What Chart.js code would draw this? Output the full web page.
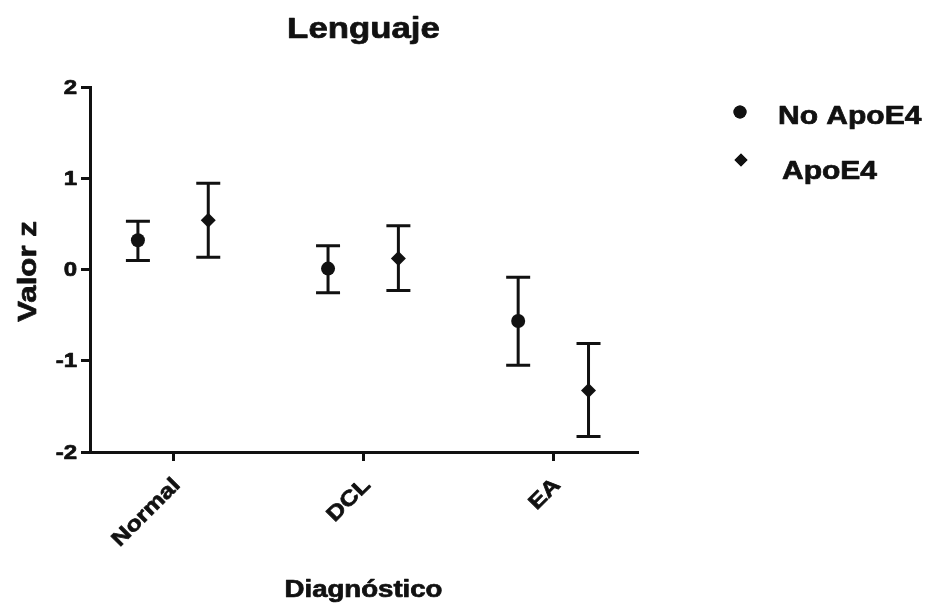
<!DOCTYPE html>
<html>
<head>
<meta charset="utf-8">
<script src="https://cdn.jsdelivr.net/npm/chart.js@4/dist/chart.umd.min.js"></script>
<style>
  html, body { margin: 0; padding: 0; background: #fff; }
  #wrap { width: 930px; height: 609px; }
</style>
</head>
<body>
<div id="wrap"><canvas id="c" width="930" height="609"></canvas></div>
<script>
// Diagnostic groups on the x axis
const categories = ['Normal', 'DCL', 'EA'];
// Y axis tick values
const yTicks = [-2, -1, 0, 1, 2];

// Language z-scores: mean with lower / upper error-bar ends
const noApoMean = [0.32, 0.01, -0.565];
const noApoLow  = [0.10, -0.255, -1.05];
const noApoHigh = [0.53, 0.26, -0.085];

const apoMean = [0.54, 0.12, -1.325];
const apoLow  = [0.135, -0.23, -1.83];
const apoHigh = [0.945, 0.48, -0.81];

const seriesNames = ['No ApoE4', 'ApoE4'];
const chartTitle = 'Lenguaje';
const xTitle = 'Diagnóstico';
const yTitle = 'Valor z';

const INK = '#111';
const FONT = '"Liberation Sans", Arial, Helvetica, sans-serif';
const WIDE = 1.2;     // the labels use a broad, extended bold face
const DODGE = 0.185;  // side-by-side spread of the two groups within a category

function toPoints(means, lows, highs, shift) {
  return means.map((m, i) => ({ x: i + 1 + shift, y: m, lo: lows[i], hi: highs[i] }));
}

// Heavy bold text, widened along its own direction, optionally rotated
function wideText(ctx, text, x, y, size, align, baseline, rotation) {
  ctx.save();
  ctx.translate(x, y);
  if (rotation) ctx.rotate(rotation);
  ctx.scale(WIDE, 1);
  ctx.font = 'bold ' + size + 'px ' + FONT;
  ctx.textAlign = align;
  ctx.textBaseline = baseline;
  ctx.fillStyle = INK;
  ctx.strokeStyle = INK;
  ctx.lineWidth = 0.7;
  ctx.lineJoin = 'round';
  ctx.fillText(text, 0, 0);
  ctx.strokeText(text, 0, 0);
  ctx.restore();
}

// Vertical error bars with caps, beneath the markers
const errorBars = {
  id: 'errorBars',
  beforeDatasetsDraw(chart) {
    const { ctx, scales: { x, y } } = chart;
    ctx.save();
    ctx.strokeStyle = INK;
    ctx.lineWidth = 3;
    ctx.lineCap = 'butt';
    chart.data.datasets.forEach(ds => {
      ds.data.forEach(p => {
        const px = x.getPixelForValue(p.x);
        const top = y.getPixelForValue(p.hi);
        const bot = y.getPixelForValue(p.lo);
        const cap = 12;
        ctx.beginPath();
        ctx.moveTo(px, top); ctx.lineTo(px, bot);
        ctx.moveTo(px - cap, top); ctx.lineTo(px + cap, top);
        ctx.moveTo(px - cap, bot); ctx.lineTo(px + cap, bot);
        ctx.stroke();
      });
    });
    ctx.restore();
  }
};

// Heading, axis labels, axis titles and the legend
const labels = {
  id: 'labels',
  afterDraw(chart) {
    const { ctx, chartArea, scales: { x, y } } = chart;
    const midX = (chartArea.left + chartArea.right) / 2;
    const midY = (chartArea.top + chartArea.bottom) / 2;

    wideText(ctx, chartTitle, midX, 38, 29, 'center', 'alphabetic', 0);

    // y tick labels
    y.ticks.forEach(t => {
      wideText(ctx, String(t.value), chartArea.left - 13, y.getPixelForValue(t.value) + 1, 20, 'right', 'middle', 0);
    });

    // x tick labels, slanted at 45 degrees
    x.ticks.forEach(t => {
      const name = categories[Math.round(t.value) - 1];
      wideText(ctx, name, x.getPixelForValue(t.value) + 4, chartArea.bottom + 30, 21, 'right', 'middle', -Math.PI / 4);
    });

    wideText(ctx, xTitle, midX, 597, 23, 'center', 'alphabetic', 0);
    wideText(ctx, yTitle, 36, midY + 2, 26, 'center', 'alphabetic', -Math.PI / 2);

    // legend
    const rows = [
      { style: 'circle', r: 6.5, mx: 740, my: 112, tx: 778, ty: 124 },
      { style: 'rectRot', r: 6.5, mx: 741, my: 160, tx: 782, ty: 179 }
    ];
    ctx.save();
    ctx.fillStyle = INK;
    rows.forEach(row => {
      Chart.helpers.drawPoint(ctx, { pointStyle: row.style, radius: row.r, borderWidth: 0 }, row.mx, row.my);
      ctx.fill();
    });
    ctx.restore();
    rows.forEach((row, i) => {
      wideText(ctx, seriesNames[i], row.tx, row.ty, 25, 'left', 'alphabetic', 0);
    });
  }
};

const ctx = document.getElementById('c').getContext('2d');
new Chart(ctx, {
  type: 'scatter',
  data: {
    datasets: [
      {
        label: seriesNames[0],
        data: toPoints(noApoMean, noApoLow, noApoHigh, -DODGE),
        pointStyle: 'circle',
        pointRadius: 7,
        pointHoverRadius: 7,
        backgroundColor: INK,
        borderColor: INK,
        borderWidth: 0
      },
      {
        label: seriesNames[1],
        data: toPoints(apoMean, apoLow, apoHigh, DODGE),
        pointStyle: 'rectRot',
        pointRadius: 7.5,
        pointHoverRadius: 7.5,
        backgroundColor: INK,
        borderColor: INK,
        borderWidth: 0
      }
    ]
  },
  options: {
    responsive: false,
    animation: false,
    layout: { padding: { left: 0, right: 293, top: 87, bottom: 0 } },
    plugins: {
      legend: { display: false },
      title: { display: false },
      tooltip: { enabled: false }
    },
    scales: {
      x: {
        type: 'linear',
        min: 0.563,
        max: 3.44,
        afterBuildTicks(scale) {
          scale.ticks = categories.map((c, i) => ({ value: i + 1 }));
        },
        afterFit(scale) { scale.height = 157; },
        ticks: { display: false },
        grid: { drawOnChartArea: false, drawTicks: true, tickLength: 9, color: INK, lineWidth: 3 },
        border: { display: true, color: INK, width: 3 }
      },
      y: {
        min: -2,
        max: 2,
        afterBuildTicks(scale) {
          scale.ticks = yTicks.map(v => ({ value: v }));
        },
        afterFit(scale) { scale.width = 90; },
        ticks: { display: false },
        grid: { drawOnChartArea: false, drawTicks: true, tickLength: 9, color: INK, lineWidth: 3 },
        border: { display: true, color: INK, width: 3 }
      }
    }
  },
  plugins: [errorBars, labels]
});
</script>
</body>
</html>
